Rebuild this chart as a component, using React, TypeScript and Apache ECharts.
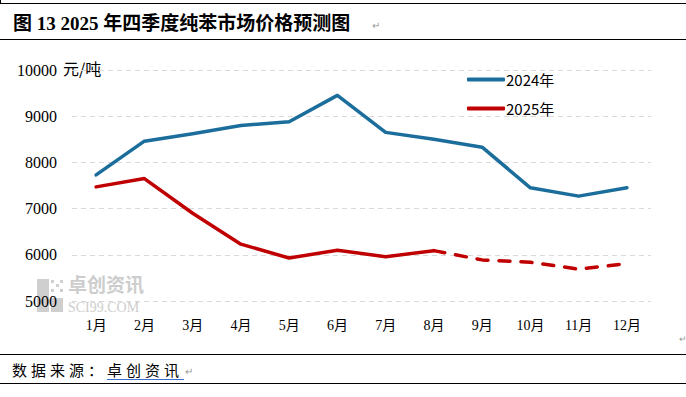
import React, { useEffect, useRef } from "react";
import * as echarts from "echarts";

const months = ["1月", "2月", "3月", "4月", "5月", "6月", "7月", "8月", "9月", "10月", "11月", "12月"];
const price2024 = [7730, 8460, 8620, 8800, 8880, 9450, 8650, 8500, 8330, 7450, 7270, 7450];
const price2025Actual = [7470, 7650, 6900, 6230, 5930, 6100, 5960, 6090, null, null, null, null];
const price2025Forecast = [null, null, null, null, null, null, null, 6090, 5890, 5840, 5690, 5810];
const yTicks = { min: 5000, max: 10000, interval: 1000 };
const titleText = "图 13 2025 年四季度纯苯市场价格预测图";
const sourceLabel = "数据来源：";
const sourceName = "卓创资讯";
const unitText = "元/吨";
const watermarkCn = "卓创资讯";
const watermarkEn = "SCI99.COM";

const BLUE = "#1B6E9B";
const RED = "#C00000";
const SERIF = "'Liberation Serif', 'Noto Sans CJK SC', serif";
const SANS = "'Noto Sans CJK SC', 'Noto Sans', sans-serif";

export default function App() {
  const ref = useRef<HTMLDivElement>(null);
  useEffect(() => {
    if (!ref.current) return;
    const chart = echarts.init(ref.current, null, { renderer: "svg" });
    const srcChars = (sourceLabel + sourceName).split("");
    const srcTexts = srcChars.map((ch, i) => ({
      type: "text",
      left: 12 + i * 19,
      top: 362,
      style: { text: ch, fontSize: 15, fontFamily: SANS, fill: "#000" },
    }));
    chart.setOption({
      animation: false,
      backgroundColor: "#fff",
      grid: { left: 72, right: 35, top: 70, bottom: 96 },
      legend: {
        data: ["2024年", "2025年"],
        orient: "vertical",
        left: 462,
        top: 67,
        itemGap: 14,
        itemWidth: 38,
        itemHeight: 4,
        icon: "roundRect",
        textStyle: { fontSize: 15, fontFamily: SANS, color: "#000", padding: [0, 0, 0, -4] },
      },
      xAxis: {
        type: "category",
        data: months,
        boundaryGap: true,
        axisLine: { show: false },
        axisTick: { show: false },
        axisLabel: { fontSize: 14, fontFamily: SERIF, color: "#000", margin: 17 },
      },
      yAxis: {
        type: "value",
        min: yTicks.min,
        max: yTicks.max,
        interval: yTicks.interval,
        axisLine: { show: false },
        axisTick: { show: false },
        axisLabel: {
          fontSize: 16,
          fontFamily: SERIF,
          color: "#000",
          margin: 15,
          formatter: (v: number) => String(v),
        },
        splitLine: { lineStyle: { type: [5, 4], color: "#d9d9d9", width: 1 } },
      },
      series: [
        {
          name: "2024年",
          type: "line",
          data: price2024,
          showSymbol: false,
          symbol: "none",
          lineStyle: { color: BLUE, width: 3.5, cap: "round", join: "round" },
          itemStyle: { color: BLUE },
        },
        {
          name: "2025年",
          type: "line",
          data: price2025Actual,
          showSymbol: false,
          symbol: "none",
          lineStyle: { color: RED, width: 3.5, cap: "round", join: "round" },
          itemStyle: { color: RED },
        },
        {
          name: "2025年",
          type: "line",
          data: price2025Forecast,
          showSymbol: false,
          symbol: "none",
          lineStyle: { color: RED, width: 3.5, type: [11, 11], cap: "round" },
          itemStyle: { color: RED },
        },
      ],
      graphic: [
        { type: "line", shape: { x1: 0, y1: 3.5, x2: 686, y2: 3.5 }, style: { stroke: "#000", lineWidth: 1 } },
        { type: "line", shape: { x1: 0.5, y1: 0, x2: 0.5, y2: 4 }, style: { stroke: "#000", lineWidth: 1 } },
        { type: "line", shape: { x1: 0, y1: 39.5, x2: 686, y2: 39.5 }, style: { stroke: "#000", lineWidth: 1 } },
        {
          type: "text",
          left: 13,
          top: 14,
          style: { text: titleText, fontSize: 19, fontWeight: "bold", fontFamily: SERIF, fill: "#000" },
        },
        { type: "text", left: 372, top: 20, style: { text: "↵", fontSize: 10, fill: "#999" } },
        {
          type: "text",
          left: 63,
          top: 60,
          style: { text: unitText, fontSize: 16, fontFamily: SANS, fill: "#000" },
        },
        // watermark
        { type: "rect", shape: { x: 37, y: 279, width: 12, height: 33 }, style: { fill: "#cfcfcf" } },
        { type: "rect", shape: { x: 51, y: 298, width: 12, height: 14 }, style: { fill: "#cfcfcf" } },
        { type: "rect", shape: { x: 51, y: 280, width: 3, height: 3 }, style: { fill: "#cfcfcf" } },
        { type: "rect", shape: { x: 56, y: 284, width: 3, height: 3 }, style: { fill: "#cfcfcf" } },
        { type: "rect", shape: { x: 60, y: 280, width: 3, height: 3 }, style: { fill: "#cfcfcf" } },
        { type: "rect", shape: { x: 51, y: 289, width: 3, height: 3 }, style: { fill: "#cfcfcf" } },
        { type: "rect", shape: { x: 60, y: 289, width: 3, height: 3 }, style: { fill: "#cfcfcf" } },
        {
          type: "text",
          left: 68,
          top: 274,
          style: { text: watermarkCn, fontSize: 19, fontWeight: "bold", fontFamily: SANS, fill: "#cdcdcd" },
        },
        {
          type: "text",
          left: 68,
          top: 300,
          style: { text: watermarkEn, fontSize: 14, fontFamily: SERIF, fill: "#cdcdcd" },
        },
        { type: "text", left: 679, top: 334, style: { text: "↵", fontSize: 9, fill: "#999" } },
        // source
        { type: "line", shape: { x1: 0, y1: 354.5, x2: 686, y2: 354.5 }, style: { stroke: "#000", lineWidth: 1 } },
        { type: "line", shape: { x1: 0, y1: 383.5, x2: 686, y2: 383.5 }, style: { stroke: "#000", lineWidth: 1 } },
        ...srcTexts,
        { type: "line", shape: { x1: 107, y1: 379.5, x2: 184, y2: 379.5 }, style: { stroke: "#3a6fd0", lineWidth: 1.2 } },
        { type: "text", left: 185, top: 366, style: { text: "↵", fontSize: 10, fill: "#999" } },
      ],
    });
    return () => chart.dispose();
  }, []);
  return (
    <div
      ref={ref}
      style={{ position: "fixed", left: 0, top: 0, width: 686, height: 397, background: "#fff" }}
    />
  );
}
